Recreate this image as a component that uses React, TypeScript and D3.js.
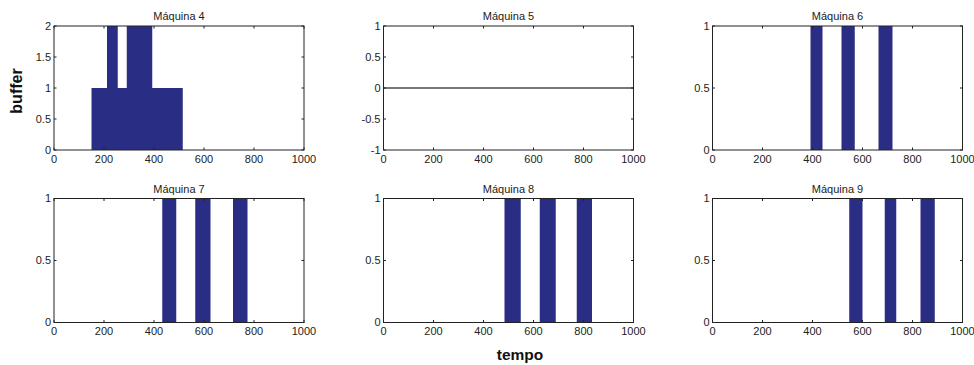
import React from "react"
import { scaleLinear, area, curveStepAfter } from "d3"

// panel titles in draw order (row by row)
const titles = ["Máquina 4", "Máquina 5", "Máquina 6", "Máquina 7", "Máquina 8", "Máquina 9"]

const xTicks = [0, 200, 400, 600, 800, 1000]

// Máquina 4: buffer level steps (time where level starts, level)
const m4Times = [0, 150, 212, 255, 291, 393, 515, 1000]
const m4Levels = [0, 1, 2, 1, 2, 1, 0, 0]

// Máquina 5: flat zero line
const m5Times = [0, 1000]
const m5Levels = [0, 0]

// Máquinas 6..9: intervals where buffer = 1
const m6Busy = [[392, 440], [516, 569], [664, 720]]
const m7Busy = [[433, 489], [565, 626], [716, 774]]
const m8Busy = [[484, 549], [625, 689], [773, 834]]
const m9Busy = [[547, 600], [689, 735], [832, 889]]

const yDomains = [[0, 2], [-1, 1], [0, 1], [0, 1], [0, 1], [0, 1]]
const yTickSets = [
  [0, 0.5, 1, 1.5, 2],
  [-1, -0.5, 0, 0.5, 1],
  [0, 0.5, 1],
  [0, 0.5, 1],
  [0, 0.5, 1],
  [0, 0.5, 1],
]

const W = 974
const H = 365
const colLeft = [54, 383.5, 712.5]
const rowTop = [26, 198.5]
const pw = 250
const ph = 124
const barColor = "#2a2d84"
const font = "'Liberation Sans', Arial, sans-serif"

function Panel({ idx }: { idx: number }) {
  const col = idx % 3
  const row = Math.floor(idx / 3)
  const left = colLeft[col]
  const top = rowTop[row]
  const x = scaleLinear().domain([0, 1000]).range([0, pw])
  const y = scaleLinear().domain(yDomains[idx]).range([ph, 0])
  const tick = 2.5

  let marks: React.ReactNode = null
  if (idx === 0) {
    const pts = m4Times.map((t, i) => ({ t, v: m4Levels[i] }))
    const a = area<{ t: number; v: number }>()
      .x((d) => x(d.t))
      .y0(y(0))
      .y1((d) => y(d.v))
      .curve(curveStepAfter)
    marks = <path d={a(pts) ?? ""} fill={barColor} />
  } else if (idx === 1) {
    marks = (
      <line
        x1={x(m5Times[0])}
        x2={x(m5Times[1])}
        y1={y(m5Levels[0])}
        y2={y(m5Levels[1])}
        stroke="#4a4a4a"
        strokeWidth={1.5}
      />
    )
  } else {
    const busy = [m6Busy, m7Busy, m8Busy, m9Busy][idx - 2]
    marks = busy.map(([s, e], i) => (
      <rect
        key={i}
        x={x(s)}
        y={y(1)}
        width={x(e) - x(s)}
        height={y(0) - y(1)}
        fill={barColor}
      />
    ))
  }

  return (
    <g transform={`translate(${left},${top})`}>
      <rect x={0} y={0} width={pw} height={ph} fill="#fff" />
      {marks}
      {/* frame */}
      <rect x={0} y={0} width={pw} height={ph} fill="none" stroke="#222" strokeWidth={1} />
      {/* x ticks, inward top and bottom */}
      {xTicks.map((t) => (
        <g key={`x${t}`}>
          <line x1={x(t)} x2={x(t)} y1={ph} y2={ph - tick} stroke="#222" />
          <line x1={x(t)} x2={x(t)} y1={0} y2={tick} stroke="#222" />
          <text
            x={x(t)}
            y={ph + 12.5}
            textAnchor="middle"
            fontSize={11}
            fontFamily={font}
            fill="#222"
          >
            {t}
          </text>
        </g>
      ))}
      {/* y ticks, inward left and right */}
      {yTickSets[idx].map((t) => (
        <g key={`y${t}`}>
          <line x1={0} x2={tick} y1={y(t)} y2={y(t)} stroke="#222" />
          <line x1={pw} x2={pw - tick} y1={y(t)} y2={y(t)} stroke="#222" />
          <text
            x={-3}
            y={y(t)}
            dy="0.35em"
            textAnchor="end"
            fontSize={11}
            fontFamily={font}
            fill="#222"
          >
            {t}
          </text>
        </g>
      ))}
      <text
        x={pw / 2}
        y={-6}
        textAnchor="middle"
        fontSize={11}
        fontFamily={font}
        fill="#222"
      >
        {titles[idx]}
      </text>
    </g>
  )
}

export default function App() {
  return (
    <svg
      width={W}
      height={H}
      style={{ position: "absolute", left: 0, top: 0, background: "#fff" }}
    >
      {titles.map((_, i) => (
        <Panel key={i} idx={i} />
      ))}
      <text
        transform="translate(22,91) rotate(-90)"
        textAnchor="middle"
        fontSize={16}
        fontWeight="bold"
        fontFamily={font}
        fill="#111"
      >
        buffer
      </text>
      <text
        x={520}
        y={360}
        textAnchor="middle"
        fontSize={15.5}
        fontWeight="bold"
        fontFamily={font}
        fill="#111"
      >
        tempo
      </text>
    </svg>
  )
}
